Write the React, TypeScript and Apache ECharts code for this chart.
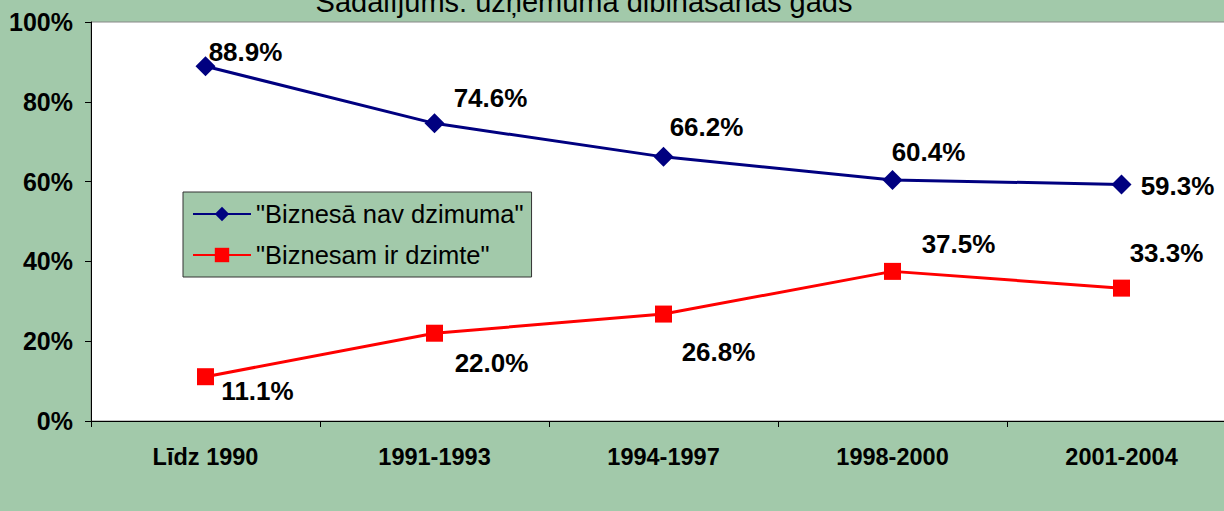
import React, { useEffect, useRef } from "react";
import * as echarts from "echarts";

const categories = ["Līdz 1990", "1991-1993", "1994-1997", "1998-2000", "2001-2004"];
const seriesNames = ['"Biznesā nav dzimuma"', '"Biznesam ir dzimte"'];
const noGender = [88.9, 74.6, 66.2, 60.4, 59.3];
const hasGender = [11.1, 22.0, 26.8, 37.5, 33.3];
const yTicks = { min: 0, max: 100, interval: 20 };
const titleText = "Sadalījums: uzņēmuma dibināšanas gads";

const blueLabelOffsets = [[40, -14], [56, -25], [43, -30], [36, -28], [56, 2]];
const redLabelOffsets = [[52, 14], [57, 30], [55, 38], [66, -27], [45, -35]];

const FONT = "'Liberation Sans', Arial, sans-serif";
const BG = "#A2C9AA";

function withLabels(values: number[], offsets: number[][]) {
  return values.map((v, i) => ({
    value: v,
    label: { offset: offsets[i] },
  }));
}

export default function App() {
  const ref = useRef<HTMLDivElement>(null);
  useEffect(() => {
    document.body.style.margin = "0";
    const chart = echarts.init(ref.current!, undefined, { renderer: "svg" });
    const labelCommon = {
      show: true,
      position: "inside",
      fontFamily: FONT,
      fontSize: 26,
      fontWeight: "bold",
      color: "#000",
      formatter: (p: any) => Number(p.value).toFixed(1) + "%",
    };
    chart.setOption({
      animation: false,
      backgroundColor: BG,
      textStyle: { fontFamily: FONT },
      graphic: [
        {
          type: "text",
          x: 584,
          y: 16,
          style: {
            text: titleText,
            font: `29px ${FONT}`,
            fill: "#000",
            align: "center",
            verticalAlign: "bottom",
          },
        },
      ],
      grid: {
        left: 91,
        top: 22,
        width: 1145,
        bottom: 90,
        outerBoundsMode: "none",
        containLabel: false,
        show: true,
        backgroundColor: "#fff",
        borderColor: "#888",
        borderWidth: 1,
      },
      legend: {
        orient: "vertical",
        left: 183,
        top: 192,
        padding: [9, 8, 9, 9],
        itemWidth: 58,
        itemHeight: 18,
        itemGap: 15,
        backgroundColor: BG,
        borderColor: "#333",
        borderWidth: 1,
        textStyle: { fontFamily: FONT, fontSize: 25.5, color: "#000" },
        data: seriesNames,
      },
      xAxis: {
        type: "category",
        data: categories,
        boundaryGap: true,
        axisLine: { lineStyle: { color: "#000", width: 1 } },
        axisTick: { show: true, length: 6, lineStyle: { color: "#000" } },
        axisLabel: {
          margin: 24,
          fontFamily: FONT,
          fontSize: 23.5,
          fontWeight: "bold",
          color: "#000",
        },
        splitLine: { show: false },
      },
      yAxis: {
        type: "value",
        min: yTicks.min,
        max: yTicks.max,
        interval: yTicks.interval,
        axisLine: { show: true, lineStyle: { color: "#000", width: 1 } },
        axisTick: { show: true, length: 6, lineStyle: { color: "#000" } },
        axisLabel: {
          margin: 18,
          fontFamily: FONT,
          fontSize: 25,
          fontWeight: "bold",
          color: "#000",
          formatter: "{value}%",
        },
        splitLine: { show: false },
      },
      series: [
        {
          name: seriesNames[0],
          type: "line",
          data: withLabels(noGender, blueLabelOffsets),
          symbol: "diamond",
          symbolSize: 20,
          color: "#000080",
          lineStyle: { color: "#000080", width: 3 },
          itemStyle: { color: "#000080" },
          label: labelCommon,
        },
        {
          name: seriesNames[1],
          type: "line",
          data: withLabels(hasGender, redLabelOffsets),
          symbol: "rect",
          symbolSize: 17,
          color: "#FF0000",
          lineStyle: { color: "#FF0000", width: 3 },
          itemStyle: { color: "#FF0000" },
          label: labelCommon,
        },
      ],
    });
    return () => chart.dispose();
  }, []);
  return <div ref={ref} style={{ width: 1224, height: 511 }} />;
}
